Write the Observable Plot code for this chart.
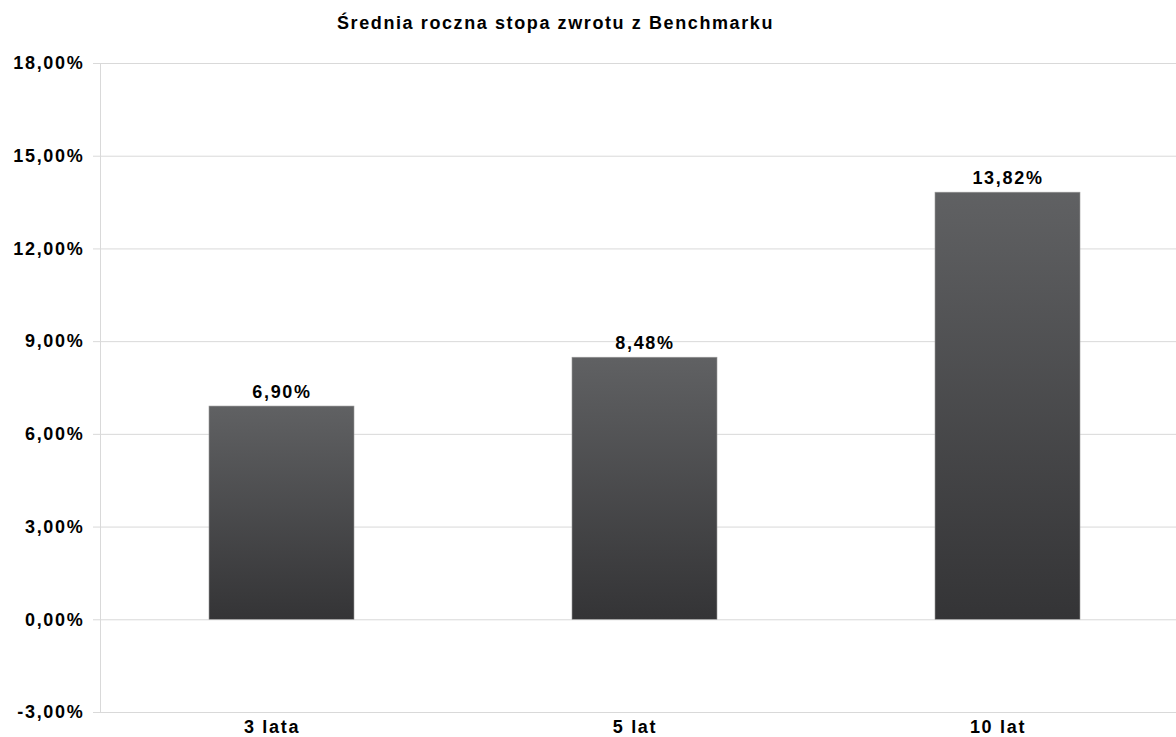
<!DOCTYPE html>
<html>
<head>
<meta charset="utf-8">
<script src="https://cdn.jsdelivr.net/npm/d3@7"></script>
<script src="https://cdn.jsdelivr.net/npm/@observablehq/plot@0.6"></script>
<style>
  html, body { margin: 0; padding: 0; background: #fff; }
  #wrap { position: relative; width: 1176px; height: 737px; overflow: hidden; font-family: "Liberation Sans", Arial, sans-serif; }
  #title { position: absolute; left: 555.5px; top: 13px; transform: translateX(-50%); white-space: nowrap; font-size: 18px; letter-spacing: 1.6px; line-height: 20px; font-weight: bold; color: #000; }
  #chart { position: absolute; left: 0; top: 40px; }
  #chart svg text { letter-spacing: 1.7px; }
</style>
</head>
<body>
<div id="wrap">
  <div id="title">Średnia roczna stopa zwrotu z Benchmarku</div>
  <div id="chart"></div>
</div>
<script>
const categories = ["3 lata", "5 lat", "10 lat"];
const values = [6.90, 8.48, 13.82];
const yTicks = [-3, 0, 3, 6, 9, 12, 15, 18];

const data = categories.map((c, i) => ({category: c, value: values[i]}));
const fmt = d => d.toFixed(2).replace(".", ",") + "%";

const chart = Plot.plot({
  width: 1176,
  height: 697,
  marginLeft: 100,
  marginRight: 0,
  marginTop: 23,
  marginBottom: 25,
  style: {fontFamily: "'Liberation Sans', Arial, sans-serif", fontSize: "18px", fontWeight: "bold", color: "#000", background: "white"},
  x: {domain: categories, range: [100, 1189], paddingInner: 0.6, paddingOuter: 0.3, align: 0.5},
  y: {domain: [-3, 18]},
  marks: [
    Plot.gridY(yTicks, {stroke: "#d9d9d9", strokeOpacity: 1, strokeWidth: 1}),
    Plot.frame({anchor: "left", stroke: "#d9d9d9", strokeWidth: 1}),
    Plot.axisY(yTicks, {tickSize: 7, stroke: "#d9d9d9", tickFormat: () => "", label: null}),
    Plot.axisY(yTicks, {tickSize: 0, tickPadding: 16, tickFormat: fmt, fill: "#000", fontSize: 18, fontWeight: "bold", label: null}),
    Plot.axisX({tickSize: 0, tickPadding: 8, dx: -10, fill: "#000", fontSize: 18, fontWeight: "bold", label: null}),
    Plot.barY(data, {x: "category", y: "value", fill: "url(#barGrad)", stroke: "#9a9a9a", strokeWidth: 0.6}),
    Plot.text(data, {x: "category", y: "value", text: d => fmt(d.value), lineAnchor: "bottom", dy: -9, fill: "#000", fontSize: 18, fontWeight: "bold"})
  ]
});

const svg = d3.select(chart);
const grad = svg.insert("defs", ":first-child")
  .append("linearGradient")
  .attr("id", "barGrad")
  .attr("x1", 0).attr("y1", 0).attr("x2", 0).attr("y2", 1);
grad.append("stop").attr("offset", "0%").attr("stop-color", "#606163");
grad.append("stop").attr("offset", "100%").attr("stop-color", "#343436");

document.getElementById("chart").appendChild(chart);
</script>
</body>
</html>
